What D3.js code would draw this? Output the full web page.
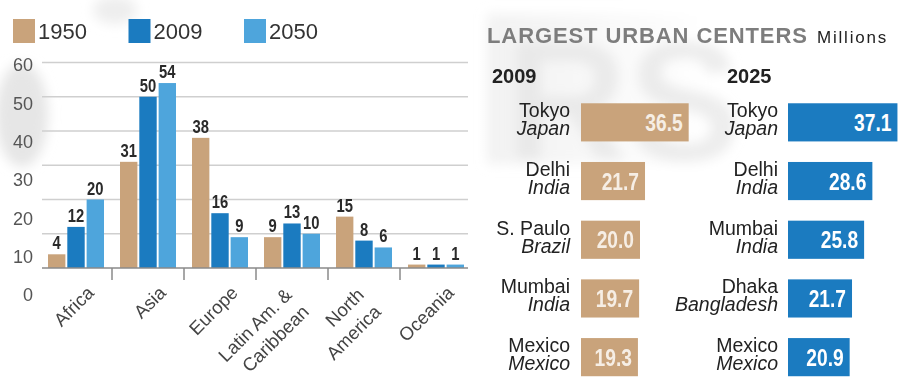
<!DOCTYPE html>
<html>
<head>
<meta charset="utf-8">
<script src="https://cdn.jsdelivr.net/npm/d3@7"></script>
<style>
  html, body { margin: 0; padding: 0; background: #fff; }
  svg { display: block; }
</style>
</head>
<body>
<svg id="chart" width="899" height="389"></svg>
<script>
// Urban population by region (percent of world urban population)
const regions = ["Africa", "Asia", "Europe", "Latin Am. & Caribbean", "North America", "Oceania"];
const regionLabelLines = [["Africa"], ["Asia"], ["Europe"], ["Latin Am. &", "Caribbean"], ["North", "America"], ["Oceania"]];
const years = ["1950", "2009", "2050"];
const values1950 = [4, 31, 38, 9, 15, 1];
const values2009 = [12, 50, 16, 13, 8, 1];
const values2050 = [20, 54, 9, 10, 6, 1];
const yTicks = [0, 10, 20, 30, 40, 50, 60];

// Largest urban centers, population in millions
const cities2009 = ["Tokyo", "Delhi", "S. Paulo", "Mumbai", "Mexico"];
const countries2009 = ["Japan", "India", "Brazil", "India", "Mexico"];
const pop2009 = [36.5, 21.7, 20.0, 19.7, 19.3];
const cities2025 = ["Tokyo", "Delhi", "Mumbai", "Dhaka", "Mexico"];
const countries2025 = ["Japan", "India", "India", "Bangladesh", "Mexico"];
const pop2025 = [37.1, 28.6, 25.8, 21.7, 20.9];

const colors = { "1950": "#c9a37b", "2009": "#1b7bc0", "2050": "#4ea5dc" };
const sans = "'Liberation Sans', Arial, Helvetica, sans-serif";
const condense = 0.8; // horizontal squeeze for the bold figure labels

const svg = d3.select("#chart");

// ---- soft background marks ----
const defs = svg.append("defs");
defs.append("filter").attr("id", "soft").attr("x", "-50%").attr("y", "-50%").attr("width", "200%").attr("height", "200%")
  .append("feGaussianBlur").attr("stdDeviation", 6);
defs.append("linearGradient").attr("id", "panelShade").attr("x1", 0).attr("y1", 0).attr("x2", 1).attr("y2", 0)
  .call(g => {
    g.append("stop").attr("offset", "0%").attr("stop-color", "#ebebeb");
    g.append("stop").attr("offset", "100%").attr("stop-color", "#ffffff");
  });
const bg = svg.append("g").attr("filter", "url(#soft)");
bg.append("ellipse").attr("cx", 22).attr("cy", 115).attr("rx", 26).attr("ry", 52).attr("fill", "#e6e6e6");
bg.append("ellipse").attr("cx", 115).attr("cy", 10).attr("rx", 22).attr("ry", 14).attr("fill", "#eeeeee");
bg.append("rect").attr("x", 487).attr("y", 14).attr("width", 230).attr("height", 150).attr("fill", "url(#panelShade)").attr("opacity", 0.7);
bg.append("text").attr("x", 505).attr("y", 160).attr("font-family", sans).attr("font-weight", "bold")
  .attr("font-size", 170).attr("fill", "#e4e4e4").attr("opacity", 0.65).text("RS");

// ---- left: grouped bars ----
const x0 = d3.scaleBand().domain(regions).range([40, 472]).paddingInner(0.2222).paddingOuter(0.1111);
const x1 = d3.scaleBand().domain(years).range([0, x0.bandwidth()]).paddingInner(0.1);
const y = d3.scaleLinear().domain([0, 60]).range([268, 62.5]);
const yLabel = d3.scaleLinear().domain([0, 60]).range([295, 65]);

const series = { "1950": values1950, "2009": values2009, "2050": values2050 };

// gridlines
svg.append("g").selectAll("line").data(yTicks.filter(d => d > 0)).join("line")
  .attr("x1", 42).attr("x2", 468)
  .attr("y1", d => y(d)).attr("y2", d => y(d))
  .attr("stroke", "#cfcfcf").attr("stroke-width", 1.5);

// tick labels
svg.append("g").selectAll("text").data(yTicks).join("text")
  .attr("x", 33).attr("y", d => yLabel(d)).attr("dy", "0.35em")
  .attr("text-anchor", "end").attr("font-family", sans).attr("font-size", 18)
  .attr("fill", "#555").text(d => d);

// bars
const groups = svg.append("g").selectAll("g").data(regions).join("g")
  .attr("transform", d => `translate(${x0(d)},0)`);
const cells = (d, i) => years.map(yr => ({ yr, v: series[yr][i] }));
groups.selectAll("rect").data(cells).join("rect")
  .attr("x", d => x1(d.yr)).attr("width", x1.bandwidth())
  .attr("y", d => y(d.v)).attr("height", d => y(0) - y(d.v))
  .attr("fill", d => colors[d.yr]);
groups.selectAll("text").data(cells).join("text")
  .attr("transform", d => `translate(${x1(d.yr) + x1.bandwidth() / 2},${y(d.v) - 5}) scale(${condense},1)`)
  .attr("text-anchor", "middle").attr("font-family", sans).attr("font-weight", "bold")
  .attr("font-size", 18.5).attr("fill", "#2a2a2a").text(d => d.v);

// baseline and category separators
svg.append("line").attr("x1", 42).attr("x2", 468).attr("y1", y(0)).attr("y2", y(0))
  .attr("stroke", "#8a8a8a").attr("stroke-width", 1.5);
const sepX = regions.slice(1).map(r => x0(r) - x0.step() * x0.paddingInner() / 2);
svg.append("g").selectAll("line").data(sepX).join("line")
  .attr("x1", d => d).attr("x2", d => d).attr("y1", y(0)).attr("y2", y(0) + 12)
  .attr("stroke", "#8a8a8a").attr("stroke-width", 1.5);

// rotated category labels
const xl = svg.append("g").selectAll("text").data(regions).join("text")
  .attr("transform", (d, i) => {
    const c = x0(d) + x0.bandwidth() / 2;
    const two = regionLabelLines[i].length > 1;
    return `translate(${c + (two ? 1 : 19)},${two ? 296 : 294}) rotate(-45)`;
  })
  .attr("text-anchor", "end").attr("font-family", sans).attr("font-size", 18.5).attr("fill", "#444");
xl.selectAll("tspan").data((d, i) => regionLabelLines[i]).join("tspan")
  .attr("x", 0).attr("dy", (d, j) => j === 0 ? 0 : "1.3em").text(d => d);

// legend
const legend = svg.append("g").selectAll("g").data(years).join("g")
  .attr("transform", (d, i) => `translate(${13 + i * 115.5},19)`);
legend.append("rect").attr("width", 22).attr("height", 24).attr("fill", d => colors[d]);
legend.append("text").attr("x", 25).attr("y", 20).attr("font-family", sans).attr("font-size", 22)
  .attr("fill", "#333").text(d => d);

// ---- right: largest urban centers ----
svg.append("text").attr("x", 487).attr("y", 43).attr("font-family", sans).attr("font-weight", "bold")
  .attr("font-size", 22).attr("letter-spacing", 0.9).attr("fill", "#7d7d7d").text("LARGEST URBAN CENTERS");
svg.append("text").attr("x", 817).attr("y", 43).attr("font-family", sans)
  .attr("font-size", 17).attr("letter-spacing", 1.8).attr("fill", "#222").text("Millions");

const rowY = d3.scaleBand().domain(d3.range(5)).range([93, 386.5]).paddingInner(0.35).paddingOuter(0.175);
const w = d3.scaleLinear().domain([0, 40]).range([0, 118]);

const panels = [
  { year: "2009", x: 492, textRight: 570, barX: 581, cities: cities2009, countries: countries2009, pop: pop2009,
    fill: "#c9a37b", valueColor: "#f6eee5" },
  { year: "2025", x: 727, textRight: 778, barX: 788, cities: cities2025, countries: countries2025, pop: pop2025,
    fill: "#1b7bc0", valueColor: "#ffffff" }
];

panels.forEach(p => {
  const g = svg.append("g");
  g.append("text").attr("x", p.x).attr("y", 83).attr("font-family", sans).attr("font-weight", "bold")
    .attr("font-size", 20).attr("fill", "#222").text(p.year);
  const rows = g.selectAll("g.row").data(p.pop).join("g").attr("class", "row")
    .attr("transform", (d, i) => `translate(0,${rowY(i)})`);
  const h = rowY.bandwidth();
  rows.append("rect").attr("x", p.barX).attr("y", 0).attr("width", d => w(d)).attr("height", h)
    .attr("fill", p.fill);
  rows.append("text")
    .attr("transform", d => `translate(${p.barX + w(d) - 6},${h / 2 + 8.5}) scale(${condense},1)`)
    .attr("text-anchor", "end").attr("font-family", sans).attr("font-weight", "bold")
    .attr("font-size", 24).attr("fill", p.valueColor).text(d => d3.format(".1f")(d));
  // city name with its country in italics underneath
  const label = rows.append("text").attr("text-anchor", "end").attr("font-family", sans)
    .attr("font-size", 19.5).attr("fill", "#222");
  label.append("tspan").attr("x", p.textRight).attr("y", h / 2 - 5).text((d, i) => p.cities[i]);
  label.append("tspan").attr("x", p.textRight).attr("y", h / 2 + 13).attr("font-style", "italic")
    .text((d, i) => p.countries[i]);
});
</script>
</body>
</html>
